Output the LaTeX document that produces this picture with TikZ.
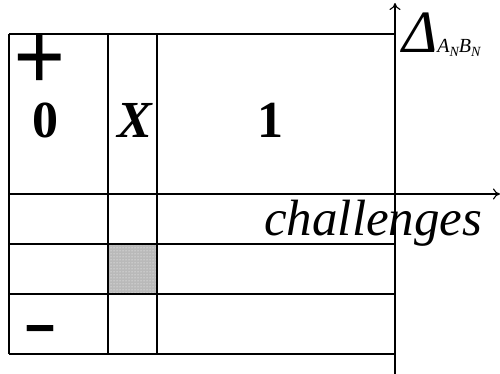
\documentclass[tikz,border=0pt]{standalone}
\usepackage{fontspec}
\setmainfont{Liberation Serif}
\usetikzlibrary{arrows.meta,patterns}
\begin{document}
\begin{tikzpicture}[x=1pt,y=-1pt,
  grid/.style={line width=1.1pt,black},
  axis/.style={line width=1.1pt,-{To[length=7pt,width=11pt]}},
  big/.style={font=\fontsize{52}{52}\selectfont\bfseries,inner sep=0pt,anchor=base},
  lbl/.style={inner sep=0pt,anchor=base west}]
\useasboundingbox (0,0) rectangle (500,374);
% shaded cell
\fill[gray!55] (108,244) rectangle (157,294);
\fill[pattern=dots,pattern color=white] (108,244) rectangle (157,294);
% grid
\draw[grid] (9,34) -- (395,34);
\draw[grid] (9,244) -- (395,244);
\draw[grid] (9,294) -- (395,294);
\draw[grid] (9,354) -- (395,354);
\draw[grid] (9,34) -- (9,354);
\draw[grid] (108,34) -- (108,354);
\draw[grid] (157,34) -- (157,354);
% axes
\coordinate (vb) at (395,374);
\coordinate (vt) at (395,3);
\coordinate (hl) at (9,194);
\coordinate (hr) at (500,194);
\draw[axis] (vb) -- (vt);
\draw[axis] (hl) -- (hr);
% texts
\node[inner sep=0pt,anchor=base,font=\fontsize{92}{92}\selectfont\bfseries,text height=40pt,text depth=0pt] (plus) at (40,91) {\scalebox{1}[1.08]{+}};
\node[big] (zero) at (45,138) {0};
\node[big,font=\fontsize{52}{52}\selectfont\bfseries\itshape] (x) at (135,138) {X};
\node[big] (one) at (270,138) {1};
\node[inner sep=0pt,anchor=base] (minus) at (40,345) {\scalebox{1.7}[1.2]{\fontsize{60}{60}\selectfont\bfseries -}};
\node[lbl,font=\fontsize{51}{51}\selectfont\itshape] (ch) at (264,235) {challenges};
\node[lbl] (delta) at (402,53) {\fontsize{60}{60}\selectfont\itshape Δ\fontsize{20}{20}\selectfont A\raisebox{-4pt}{\fontsize{14}{14}\selectfont N}B\raisebox{-4pt}{\fontsize{14}{14}\selectfont N}};
\end{tikzpicture}
\end{document}
